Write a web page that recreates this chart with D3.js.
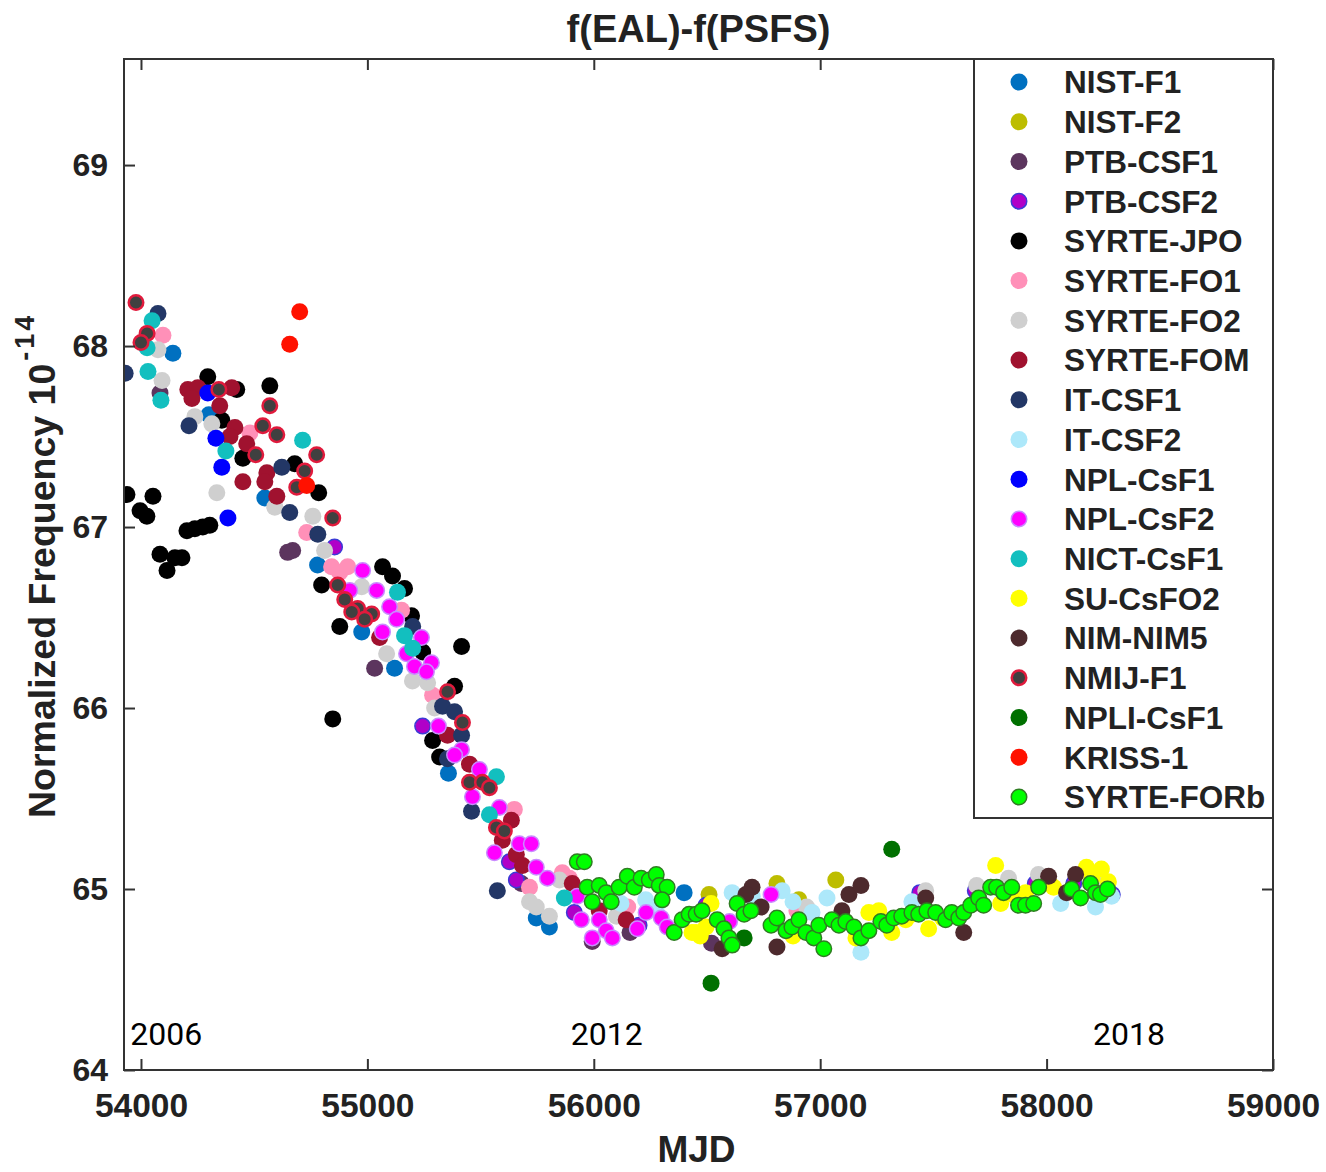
<!DOCTYPE html>
<html>
<head>
<meta charset="utf-8">
<script src="https://cdn.jsdelivr.net/npm/d3@7"></script>
<style>
  html, body { margin: 0; padding: 0; background: #ffffff; }
  svg { display: block; }
  .bold { font-family: "Liberation Sans", Arial, sans-serif; font-weight: bold; fill: #222; }
</style>
</head>
<body>
<svg id="chart" width="1326" height="1172"></svg>
<script>
// Standards names in legend order (also the drawing order)
const standards = [
  "NIST-F1", "NIST-F2", "PTB-CSF1", "PTB-CSF2", "SYRTE-JPO", "SYRTE-FO1",
  "SYRTE-FO2", "SYRTE-FOM", "IT-CSF1", "IT-CSF2", "NPL-CsF1", "NPL-CsF2",
  "NICT-CsF1", "SU-CsFO2", "NIM-NIM5", "NMIJ-F1", "NPLI-CsF1", "KRISS-1", "SYRTE-FORb"
];

// Axis ticks
const xTicks = [54000, 55000, 56000, 57000, 58000, 59000];
const yTicks = [64, 65, 66, 67, 68, 69];

// Year annotations: [label, MJD, value]
const yearLabels = [["2006", 54112, 64.14], ["2012", 56057, 64.14], ["2018", 58364, 64.14]];

// Each series: [MJD, normalized frequency (1e-14)]
const nistF1 = [[54141, 67.96], [54300, 67.62], [54547, 67.16], [54780, 66.79], [54975, 66.42],
  [55120, 66.22], [55358, 65.64], [55746, 64.84], [55804, 64.79], [56399, 64.98]];
const nistF2 = [[56509, 64.97], [56809, 65.03], [56906, 64.94], [57069, 65.05]];
const ptbCsf1 = [[54084, 67.74], [54670, 66.87], [54648, 66.86], [55032, 66.22], [55680, 65.03],
  [55993, 64.71], [56160, 64.76], [56520, 64.70]];
const ptbCsf2 = [[54855, 66.89], [55244, 65.90], [55627, 65.15], [55658, 65.05], [55914, 64.87],
  [56496, 64.91], [56200, 64.80], [57685, 64.99], [57950, 65.03], [58120, 65.03], [58290, 64.97],
  [57440, 64.98]];
const syrteJpo = [[53938, 67.18], [53996, 67.09], [54026, 67.06], [54053, 67.17], [54084, 66.85],
  [54115, 66.76], [54150, 66.83], [54181, 66.83], [54203, 66.98], [54238, 66.99], [54273, 67.00],
  [54304, 67.01], [54295, 67.83], [54423, 67.76], [54569, 67.78], [54357, 67.59], [54450, 67.38],
  [54679, 67.35], [54785, 67.19], [54798, 66.68], [54878, 66.45], [54847, 65.94], [55067, 66.78],
  [55111, 66.73], [55164, 66.66], [55195, 66.51], [55244, 66.31], [55385, 66.12], [55416, 66.34],
  [55288, 65.82], [55319, 65.73]];
const syrteFo1 = [[54097, 68.06], [54481, 67.52], [54732, 66.97], [54842, 66.78], [54878, 66.75],
  [54913, 66.78], [55151, 66.54], [55288, 66.07], [55649, 65.44], [55716, 65.01], [55861, 65.09],
  [55892, 65.06], [56897, 64.88], [56150, 64.90]];
const syrteFo2 = [[54075, 67.98], [54093, 67.81], [54238, 67.61], [54313, 67.57], [54335, 67.19],
  [54591, 67.11], [54759, 67.06], [54811, 66.87], [54975, 66.67], [55085, 66.30], [55199, 66.15],
  [55266, 66.14], [55297, 66.00], [55716, 64.93], [55746, 64.90], [55804, 64.85], [55848, 65.05],
  [56100, 64.85], [57466, 64.99], [57691, 65.02], [57832, 65.06], [57964, 65.08], [56940, 64.90],
  [58240, 65.02]];
const syrteFom = [[54207, 67.76], [54251, 67.77], [54225, 67.71], [54348, 67.67], [54401, 67.77],
  [54415, 67.55], [54393, 67.50], [54467, 67.46], [54556, 67.30], [54450, 67.25], [54547, 67.25],
  [54600, 67.17], [55054, 66.39], [55354, 65.85], [55451, 65.69], [55636, 65.38], [55596, 65.27],
  [55658, 65.19], [55685, 65.13], [55905, 65.03], [56143, 64.83], [56024, 64.88]];
const itCsf1 = [[54075, 68.18], [53930, 67.85], [54212, 67.56], [54622, 67.33], [54657, 67.08],
  [54781, 66.96], [55200, 66.45], [55332, 66.01], [55385, 65.98], [55416, 65.85], [55354, 65.72],
  [55460, 65.43], [55574, 64.99]];
const itCsf2 = [[56229, 64.94], [56276, 64.90], [56611, 64.98], [56832, 64.99], [56964, 64.87],
  [57030, 64.95], [57180, 64.65], [57405, 64.93], [58062, 64.92], [58216, 64.90], [58287, 64.96],
  [56700, 64.96], [56880, 64.93], [56120, 64.92]];
const nplCsf1 = [[54295, 67.74], [54331, 67.49], [54357, 67.33], [54384, 67.05]];
const nplCsf2 = [[54979, 66.76], [54922, 66.65], [55041, 66.65], [55098, 66.56], [55129, 66.49],
  [55067, 66.42], [55239, 66.39], [55173, 66.30], [55208, 66.23], [55283, 66.25], [55261, 66.20],
  [55314, 65.90], [55416, 65.77], [55385, 65.74], [55495, 65.66], [55464, 65.51], [55583, 65.45],
  [55561, 65.20], [55671, 65.25], [55724, 65.25], [55746, 65.12], [55795, 65.06], [55927, 64.96],
  [55945, 64.83], [55993, 64.73], [56024, 64.83], [56055, 64.77], [56082, 64.73], [56192, 64.78],
  [56231, 64.87], [56298, 64.84], [56324, 64.79], [56783, 64.97], [56600, 64.82]];
const nictCsf1 = [[54049, 68.14], [54027, 67.99], [54031, 67.86], [54088, 67.70], [54714, 67.48],
  [54375, 67.42], [55133, 66.64], [55164, 66.40], [55200, 66.33], [55570, 65.62], [55539, 65.41],
  [55870, 64.95]];
const suCsfo2 = [[56434, 64.76], [56452, 64.76], [56496, 64.79], [56518, 64.92], [57158, 64.73],
  [57215, 64.87], [57259, 64.88], [57316, 64.76], [57378, 64.83], [57405, 64.86], [57479, 64.78],
  [57775, 65.13], [57797, 64.92], [57907, 64.98], [58031, 65.01], [58176, 65.12], [58242, 65.11],
  [58273, 65.04], [56470, 64.74], [56880, 64.74], [57540, 64.84], [57850, 64.97], [58200, 65.06]];
const nimNim5 = [[56699, 65.01], [56672, 64.97], [56739, 64.90], [56567, 64.67], [56809, 64.68],
  [57127, 64.97], [57180, 65.02], [57096, 64.88], [57466, 64.95], [57634, 64.76], [58009, 65.07],
  [58128, 65.08], [58088, 64.98]];
const nmijF1 = [[53978, 68.24], [54027, 68.07], [54000, 68.02], [54344, 67.76], [54569, 67.67],
  [54538, 67.56], [54600, 67.51], [54507, 67.40], [54776, 67.40], [54723, 67.31], [54688, 67.22],
  [54847, 67.05], [54869, 66.68], [54900, 66.60], [54957, 66.55], [55019, 66.52], [54931, 66.53],
  [54988, 66.49], [55354, 66.09], [55420, 65.92], [55451, 65.59], [55508, 65.59], [55539, 65.56],
  [55570, 65.34], [55605, 65.32]];
const npliCsf1 = [[57316, 65.22], [56518, 64.48], [56664, 64.73]];
const kriss1 = [[54701, 68.19], [54657, 68.01], [54732, 67.23]];
const syrteForb = [[55927, 65.15], [55958, 65.15], [55971, 65.01], [56024, 65.02], [56055, 64.98],
  [55993, 64.93], [56077, 64.93], [56112, 65.01], [56148, 65.07], [56179, 65.01], [56209, 65.06],
  [56245, 65.05], [56276, 65.08], [56289, 65.02], [56324, 65.01], [56302, 64.94], [56355, 64.76],
  [56390, 64.83], [56421, 64.86], [56452, 64.86], [56478, 64.88], [56545, 64.83], [56575, 64.78],
  [56597, 64.73], [56611, 64.69], [56633, 64.92], [56664, 64.86], [56694, 64.88], [56783, 64.80],
  [56809, 64.84], [56849, 64.77], [56875, 64.79], [56906, 64.83], [56937, 64.76], [56972, 64.73],
  [57016, 64.67], [56994, 64.80], [57052, 64.83], [57083, 64.80], [57113, 64.82], [57149, 64.79],
  [57180, 64.73], [57215, 64.77], [57268, 64.82], [57294, 64.80], [57325, 64.84], [57360, 64.85],
  [57405, 64.87], [57435, 64.86], [57471, 64.88], [57510, 64.87], [57554, 64.83], [57581, 64.87],
  [57612, 64.84], [57634, 64.87], [57665, 64.91], [57700, 64.95], [57722, 64.91], [57753, 65.01],
  [57779, 65.01], [57810, 64.98], [57846, 65.01], [57876, 64.91], [57907, 64.91], [57943, 64.92],
  [57965, 65.01], [58110, 65.00], [58150, 64.95], [58194, 65.03], [58216, 64.98], [58238, 64.97],
  [58269, 65.00]];

const seriesValues = [nistF1, nistF2, ptbCsf1, ptbCsf2, syrteJpo, syrteFo1, syrteFo2, syrteFom,
  itCsf1, itCsf2, nplCsf1, nplCsf2, nictCsf1, suCsfo2, nimNim5, nmijF1, npliCsf1, kriss1, syrteForb];

// Marker styles keyed by standard name
const markerStyle = {
  "NIST-F1":    { fill: "#0070c0" },
  "NIST-F2":    { fill: "#bdbd00" },
  "PTB-CSF1":   { fill: "#5c355e" },
  "PTB-CSF2":   { fill: "#b000c8", stroke: "#3b3bd6", sw: 1.5 },
  "SYRTE-JPO":  { fill: "#000000" },
  "SYRTE-FO1":  { fill: "#ff90b8" },
  "SYRTE-FO2":  { fill: "#cfcfcf" },
  "SYRTE-FOM":  { fill: "#a0122f" },
  "IT-CSF1":    { fill: "#233766" },
  "IT-CSF2":    { fill: "#ade8fa" },
  "NPL-CsF1":   { fill: "#0000ff" },
  "NPL-CsF2":   { fill: "#ff00ff", stroke: "#c98cff", sw: 1.5 },
  "NICT-CsF1":  { fill: "#12bfbf" },
  "SU-CsFO2":   { fill: "#ffff00" },
  "NIM-NIM5":   { fill: "#4d2a2d" },
  "NMIJ-F1":    { fill: "#404040", stroke: "#e01a3c", sw: 2.5 },
  "NPLI-CsF1":  { fill: "#007000" },
  "KRISS-1":    { fill: "#ff1100" },
  "SYRTE-FORb": { fill: "#00ff00", stroke: "#2f7d22", sw: 1.5 }
};

const plot = { left: 124, right: 1273, top: 59, bottom: 1070 };
const R = 8.5;

const svg = d3.select("#chart");

const x = d3.scaleLinear().domain([53925, 59000]).range([plot.left, plot.right]);
const y = d3.scaleLinear().domain([64, 69.586]).range([plot.bottom, plot.top]);

// Clip markers to the frame
svg.append("defs").append("clipPath").attr("id", "plotClip")
  .append("rect")
  .attr("x", plot.left).attr("y", plot.top)
  .attr("width", plot.right - plot.left).attr("height", plot.bottom - plot.top);

// Scatter points
const data = standards.map((name, i) => ({ name, points: seriesValues[i], style: markerStyle[name] }));
const gPts = svg.append("g").attr("clip-path", "url(#plotClip)");
data.forEach(s => {
  gPts.append("g")
    .selectAll("circle")
    .data(s.points)
    .join("circle")
    .attr("cx", d => x(d[0]))
    .attr("cy", d => y(d[1]))
    .attr("r", s.style.stroke ? R - s.style.sw / 2 : R)
    .attr("fill", s.style.fill)
    .attr("stroke", s.style.stroke || "none")
    .attr("stroke-width", s.style.sw || 0);
});

// Axes with inward ticks on all four sides
const tickLen = -11;
function styleAxis(g) {
  g.selectAll(".domain").remove();
  g.selectAll(".tick line").attr("stroke", "#333").attr("stroke-width", 2);
}
svg.append("g")
  .attr("transform", `translate(0,${plot.bottom})`)
  .call(d3.axisBottom(x).tickValues(xTicks).tickSizeInner(tickLen).tickSizeOuter(0).tickPadding(23).tickFormat(d3.format("d")))
  .call(styleAxis)
  .call(g => g.selectAll("text").attr("class", "bold").style("font-size", "33.5px"));
svg.append("g")
  .attr("transform", `translate(0,${plot.top})`)
  .call(d3.axisTop(x).tickValues(xTicks).tickSizeInner(tickLen).tickSizeOuter(0).tickFormat(""))
  .call(styleAxis);
svg.append("g")
  .attr("transform", `translate(${plot.left},0)`)
  .call(d3.axisLeft(y).tickValues(yTicks).tickSizeInner(tickLen).tickSizeOuter(0).tickPadding(16).tickFormat(d3.format("d")))
  .call(styleAxis)
  .call(g => g.selectAll("text").attr("class", "bold").style("font-size", "32px"));
svg.append("g")
  .attr("transform", `translate(${plot.right},0)`)
  .call(d3.axisRight(y).tickValues(yTicks).tickSizeInner(tickLen).tickSizeOuter(0).tickFormat(""))
  .call(styleAxis);

// Frame
svg.append("rect")
  .attr("x", plot.left).attr("y", plot.top)
  .attr("width", plot.right - plot.left).attr("height", plot.bottom - plot.top)
  .attr("fill", "none").attr("stroke", "#333").attr("stroke-width", 2);

// Year annotations
svg.append("g").selectAll("text")
  .data(yearLabels)
  .join("text")
  .attr("x", d => x(d[1]))
  .attr("y", d => y(d[2]))
  .attr("text-anchor", "middle")
  .style("font-family", "Roboto, sans-serif")
  .style("font-size", "32px")
  .attr("fill", "#000")
  .text(d => d[0]);

// Title and axis titles
svg.append("text")
  .attr("class", "bold")
  .attr("x", (plot.left + plot.right) / 2).attr("y", 42)
  .attr("text-anchor", "middle")
  .style("font-size", "38px")
  .text("f(EAL)-f(PSFS)");

svg.append("text")
  .attr("class", "bold")
  .attr("x", (plot.left + plot.right) / 2 - 2).attr("y", 1162)
  .attr("text-anchor", "middle")
  .style("font-size", "37px")
  .text("MJD");

const yl = svg.append("text")
  .attr("class", "bold")
  .attr("transform", "translate(55,818) rotate(-90)")
  .style("font-size", "37.5px");
yl.append("tspan").text("Normalized Frequency 10");
yl.append("tspan").attr("dy", -21).attr("dx", 3).style("font-size", "27px").style("letter-spacing", "3px").text("-14");

// Legend
const lg = { x0: 974, y0: 59, x1: 1273, y1: 818, rowY: 82, step: 39.72, markX: 1019, textX: 1064 };
const legend = svg.append("g");
legend.append("rect")
  .attr("x", lg.x0).attr("y", lg.y0)
  .attr("width", lg.x1 - lg.x0).attr("height", lg.y1 - lg.y0)
  .attr("fill", "#fff").attr("stroke", "#333").attr("stroke-width", 2);
const rows = legend.selectAll("g.row")
  .data(data)
  .join("g")
  .attr("class", "row")
  .attr("transform", (d, i) => `translate(0,${lg.rowY + i * lg.step})`);
rows.append("circle")
  .attr("cx", lg.markX).attr("cy", 0)
  .attr("r", d => d.style.stroke ? R - d.style.sw / 2 : R)
  .attr("fill", d => d.style.fill)
  .attr("stroke", d => d.style.stroke || "none")
  .attr("stroke-width", d => d.style.sw || 0);
rows.append("text")
  .attr("class", "bold")
  .attr("x", lg.textX).attr("y", 0).attr("dy", "0.36em")
  .style("font-size", "31.5px")
  .text(d => d.name);
</script>
</body>
</html>
